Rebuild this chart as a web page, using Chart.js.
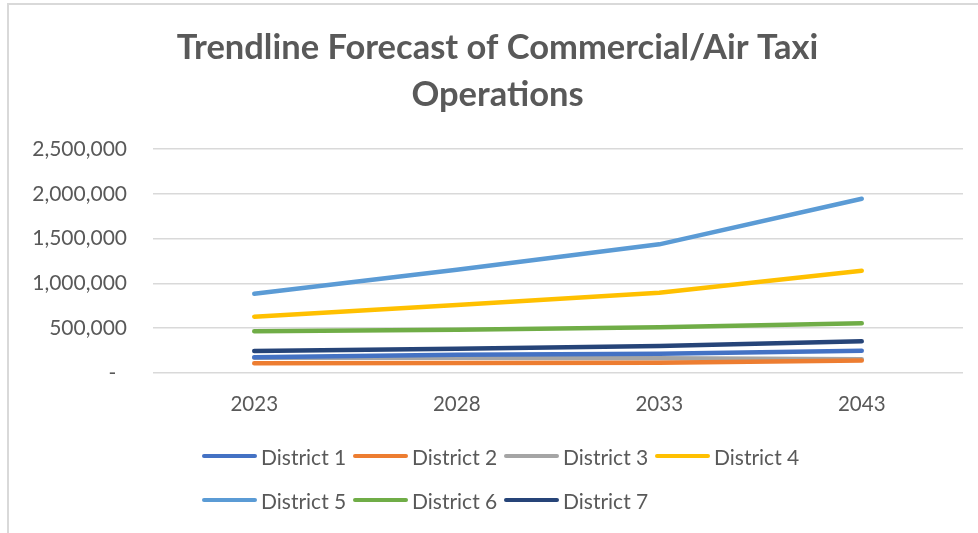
<!DOCTYPE html>
<html>
<head>
<meta charset="utf-8">
<script src="https://cdn.jsdelivr.net/npm/chart.js@4.4.0/dist/chart.umd.min.js"></script>
<style>
  html, body { margin: 0; padding: 0; background: #fff; width: 978px; height: 533px; overflow: hidden; }
  #marco { position: absolute; left: 7px; top: 3px; width: 1000px; height: 600px;
           border-left: 2px solid #d9d9d9; border-top: 2px solid #d9d9d9; }
  #grafico { position: absolute; left: 9px; top: 5px; }
  #leyenda { position: absolute; left: 202px; top: 434px; width: 620px; display: flex; flex-wrap: wrap;
             font-family: Lato, sans-serif; font-size: 21px; color: #595959; }
  .item { width: 151px; height: 44px; display: flex; align-items: center; white-space: nowrap; }
  .muestra { width: 55px; height: 4.5px; border-radius: 3px; margin-right: 4px; flex: none; }
</style>
</head>
<body>
<div id="marco"></div>
<canvas id="grafico" width="978" height="528"></canvas>
<div id="leyenda"></div>
<script>
// Años del pronóstico (eje X)
const anios = ['2023', '2028', '2033', '2043'];

// Nombres de las series
const distritos = ['District 1', 'District 2', 'District 3', 'District 4', 'District 5', 'District 6', 'District 7'];

// Operaciones por distrito
const distrito1 = [175000, 205000, 216000, 249000];
const distrito2 = [110000, 112000, 114000, 140000];
const distrito3 = [171000, 171000, 164000, 153000];
const distrito4 = [629000, 759000, 896000, 1142000];
const distrito5 = [885000, 1153000, 1436000, 1945000];
const distrito6 = [466000, 483000, 510000, 556000];
const distrito7 = [246000, 271000, 301000, 354000];

const valores = [distrito1, distrito2, distrito3, distrito4, distrito5, distrito6, distrito7];

// Colores de Office
const colores = ['#4472C4', '#ED7D31', '#A5A5A5', '#FFC000', '#5B9BD5', '#70AD47', '#264478'];

const gris = '#595959';
const fuente = 'Lato, sans-serif';

const datos = {
  labels: anios,
  datasets: distritos.map((nombre, i) => ({
    label: nombre,
    data: valores[i],
    borderColor: colores[i],
    backgroundColor: colores[i],
    borderWidth: 4.5,
    borderCapStyle: 'round',
    borderJoinStyle: 'round',
    pointRadius: 0,
    tension: 0
  }))
};

const config = {
  type: 'line',
  data: datos,
  options: {
    responsive: false,
    animation: false,
    devicePixelRatio: 1,
    layout: {
      padding: { left: 23, right: 24, top: 0, bottom: 115 }
    },
    plugins: {
      legend: { display: false },
      tooltip: { enabled: false },
      title: {
        display: true,
        text: ['Trendline Forecast of Commercial/Air Taxi', 'Operations'],
        color: gris,
        font: { family: fuente, size: 34.5, weight: 'bold', lineHeight: 1.362 },
        padding: { top: 19, bottom: 31 }
      }
    },
    scales: {
      x: {
        offset: true,
        grid: { display: false, drawTicks: false },
        border: { display: false },
        ticks: { color: gris, font: { family: fuente, size: 20.5 }, padding: 19 },
        // alto fijo del eje para que el área del gráfico no dependa de la medición
        afterFit: (escala) => { escala.height = 45; }
      },
      y: {
        min: 0,
        max: 2500000,
        grid: { color: '#d9d9d9', lineWidth: 1.5, drawTicks: false },
        border: { display: false },
        ticks: {
          stepSize: 500000,
          color: gris,
          font: { family: fuente, size: 21 },
          padding: 26,
          // el cero se muestra como guion (formato contable)
          callback: (v) => v === 0 ? '-  ' : v.toLocaleString('en-US')
        },
        afterFit: (escala) => { escala.width = 121; }
      }
    }
  }
};

const grafico = new Chart(document.getElementById('grafico'), config);

// Leyenda en HTML, alineada a la izquierda en dos filas
const leyenda = document.getElementById('leyenda');
Chart.defaults.plugins.legend.labels.generateLabels(grafico).forEach((it) => {
  const item = document.createElement('div');
  item.className = 'item';
  const muestra = document.createElement('span');
  muestra.className = 'muestra';
  muestra.style.background = it.strokeStyle;
  const texto = document.createElement('span');
  texto.textContent = it.text;
  item.appendChild(muestra);
  item.appendChild(texto);
  leyenda.appendChild(item);
});
</script>
</body>
</html>
